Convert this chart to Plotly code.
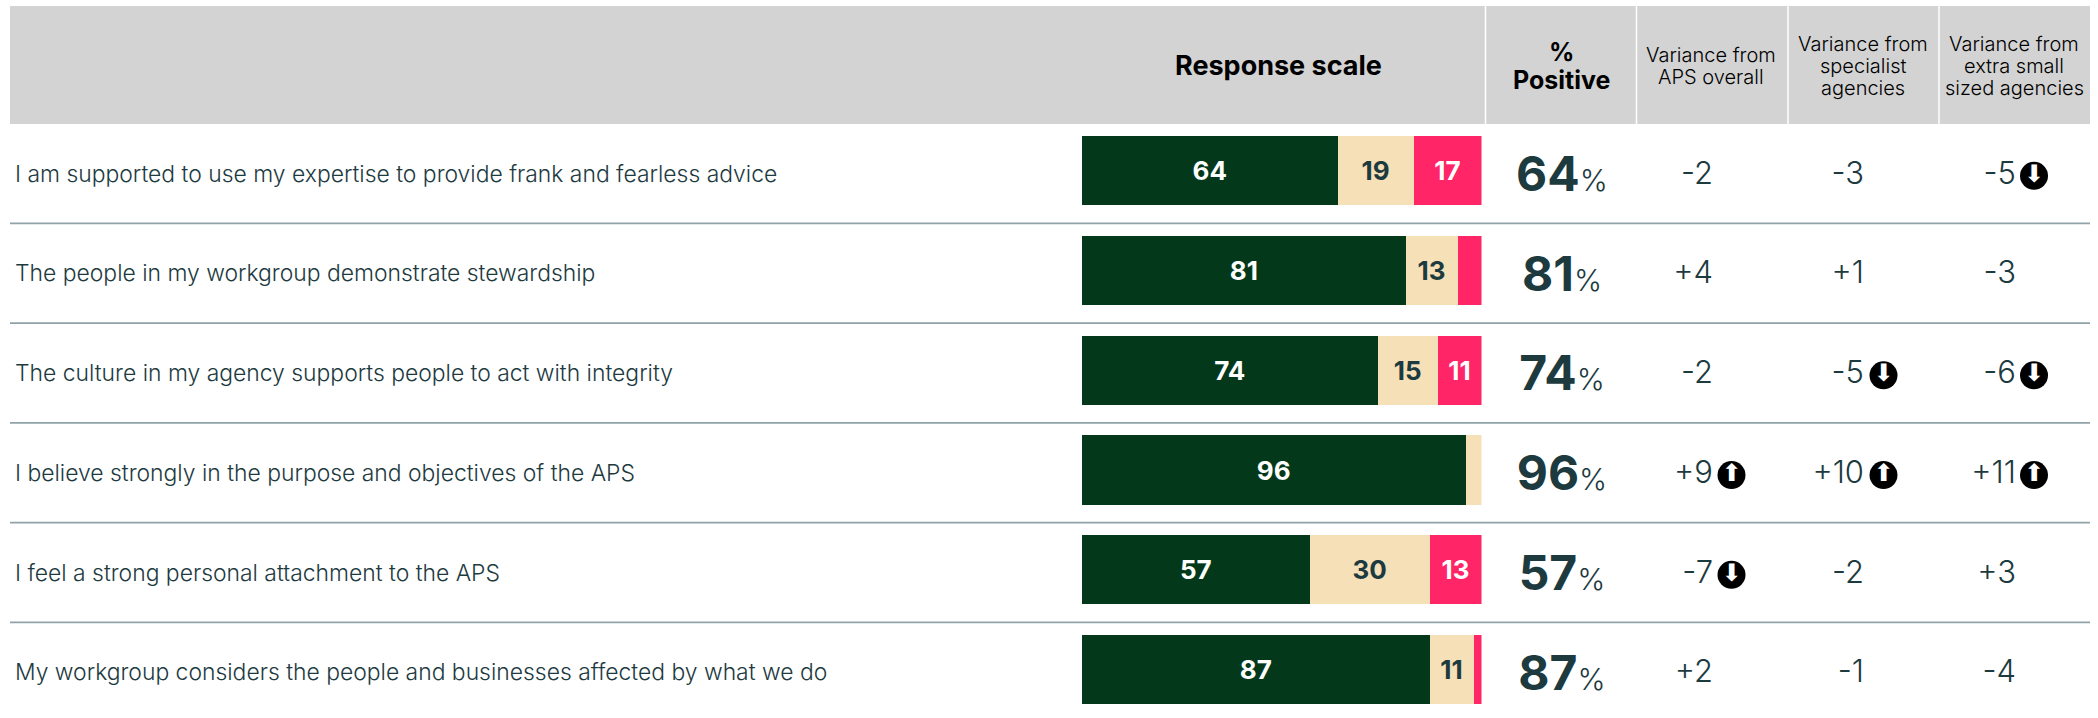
import plotly.graph_objects as go

# Survey statements and their response breakdown (%)
questions = [
    "I am supported to use my expertise to provide frank and fearless advice",
    "The people in my workgroup demonstrate stewardship",
    "The culture in my agency supports people to act with integrity",
    "I believe strongly in the purpose and objectives of the APS",
    "I feel a strong personal attachment to the APS",
    "My workgroup considers the people and businesses affected by what we do",
]
positive = [64, 81, 74, 96, 57, 87]
neutral = [19, 13, 15, 4, 30, 11]
negative = [17, 6, 11, 0, 13, 2]

# Variance columns, in percentage points
var_aps = [-2, 4, -2, 9, -7, 2]
var_specialist = [-3, 1, -5, 10, -2, -1]
var_small = [-5, -3, -6, 11, 3, -4]

WIDTH, HEIGHT = 2098, 718
FONT = "Inter"
INK = "#1d3a3f"
GREEN, CREAM, PINK = "#03391a", "#f5e0b7", "#ff2567"
HEADER_BG, RULE = "#d3d3d3", "#8fa3a8"
LABEL_MIN = 10       # segments narrower than this carry no label
ARROW_MIN = 5        # variance at or beyond this gets a direction icon

# Layout in pixels
BAR_LEFT, BAR_RIGHT = 1082, 1481.5
ROW0, ROW_STEP = 170.8, 99.75
TEXT_DROP = 5        # row text sits slightly below the bar centre line
FIGURE_DROP = 8      # the large figures sit a little lower still
HEADER_TOP, HEADER_BOTTOM = 6, 124
TABLE_LEFT, TABLE_RIGHT = 10, 2090
COLUMN_EDGES = [1485.5, 1636.5, 1788, 1939]
QUESTION_X = 15
PERCENT_X = 1562
VAR_TEXT_X = [1713, 1864, 2016]
VAR_ICON_X = [1731.5, 1883.5, 2034]


def segment_labels(values):
    return [str(v) if v >= LABEL_MIN else "" for v in values]


fig = go.Figure()

for values, colour, ink in [
    (positive, GREEN, "white"),
    (neutral, CREAM, INK),
    (negative, PINK, "white"),
]:
    fig.add_trace(go.Bar(
        y=questions, x=values, orientation="h", width=0.695,
        marker=dict(color=colour, line_width=0),
        text=segment_labels(values), textposition="inside", textangle=0,
        insidetextanchor="middle", constraintext="none",
        textfont=dict(family=FONT, size=26, color=ink, weight=700),
        hoverinfo="skip", xaxis="x", yaxis="y",
    ))

# Statement text
fig.add_trace(go.Scatter(
    x=[QUESTION_X] * len(questions), y=questions, mode="text",
    text=questions, textposition="middle right",
    textfont=dict(family=FONT, size=22.9, color=INK, weight=350),
    xaxis="x2", yaxis="y2", hoverinfo="skip", cliponaxis=False,
))

# Large % positive figures
fig.add_trace(go.Scatter(
    x=[PERCENT_X] * len(positive), y=questions, mode="text",
    text=[f'{v}<span style="font-size:30px;font-weight:300">%</span>' for v in positive],
    textposition="middle center",
    textfont=dict(family=FONT, size=48, color=INK, weight=700),
    xaxis="x3", yaxis="y3", hoverinfo="skip", cliponaxis=False,
))

# Variance columns and their direction icons
for column, text_x, icon_x in zip([var_aps, var_specialist, var_small], VAR_TEXT_X, VAR_ICON_X):
    fig.add_trace(go.Scatter(
        x=[text_x] * len(column), y=questions, mode="text",
        text=[f"{v:+d}" for v in column], textposition="middle left",
        textfont=dict(family=FONT, size=31, color=INK, weight=300),
        xaxis="x2", yaxis="y2", hoverinfo="skip", cliponaxis=False,
    ))
    flagged = [(q, v) for q, v in zip(questions, column) if abs(v) >= ARROW_MIN]
    fig.add_trace(go.Scatter(
        x=[icon_x] * len(flagged), y=[q for q, _ in flagged], mode="markers+text",
        marker=dict(symbol="circle", size=28, color="black", line_width=0),
        text=["⬆" if v > 0 else "⬇" for _, v in flagged],
        textposition="middle center",
        textfont=dict(family="DejaVu Sans", size=24, color="white"),
        xaxis="x2", yaxis="y2", hoverinfo="skip", cliponaxis=False,
    ))

shapes = [dict(type="rect", xref="x2", yref="paper", layer="below",
               x0=TABLE_LEFT, x1=TABLE_RIGHT, y0=1 - HEADER_TOP / HEIGHT, y1=1 - HEADER_BOTTOM / HEIGHT,
               fillcolor=HEADER_BG, line_width=0)]
for edge in COLUMN_EDGES:
    shapes.append(dict(type="line", xref="x2", yref="paper", layer="below",
                       x0=edge, x1=edge, y0=1 - HEADER_TOP / HEIGHT, y1=1 - HEADER_BOTTOM / HEIGHT,
                       line=dict(color="white", width=1.5)))
for i in range(len(questions) - 1):
    shapes.append(dict(type="line", xref="x2", yref="y", layer="below",
                       x0=TABLE_LEFT, x1=TABLE_RIGHT, y0=i + 0.527, y1=i + 0.527,
                       line=dict(color=RULE, width=1.6)))


def header(text, x, y, size, weight=400):
    return dict(text=text, xref="x2", yref="paper", x=x, y=1 - y / HEIGHT,
                showarrow=False, xanchor="center", yanchor="middle", align="center",
                font=dict(family=FONT, size=size, color="black", weight=weight))


def header_lines(lines, x, centre=66, pitch=22, size=20):
    first = centre - pitch * (len(lines) - 1) / 2
    return [header(line, x, first + pitch * i, size, 350) for i, line in enumerate(lines)]


annotations = [
    header("Response scale", 1278, 66, 27, 700),
    header("%", 1561, 52, 25, 700),
    header("Positive", 1561, 80, 25, 700),
    *header_lines(["Variance from", "APS overall"], 1711),
    *header_lines(["Variance from", "specialist", "agencies"], 1863),
    *header_lines(["Variance from", "extra small", "sized agencies"], 2014),
]

y_range = [(HEIGHT - ROW0) / ROW_STEP, -ROW0 / ROW_STEP]


def dropped_range(pixels):
    shift = pixels / ROW_STEP
    return [y_range[0] - shift, y_range[1] - shift]


hidden_rows = dict(type="category", categoryorder="array", categoryarray=questions,
                   visible=False, fixedrange=True)
page_x = dict(domain=[0, 1], range=[0, WIDTH], visible=False, fixedrange=True)

fig.update_layout(
    width=WIDTH, height=HEIGHT, autosize=False,
    margin=dict(l=0, r=0, t=0, b=0),
    paper_bgcolor="white", plot_bgcolor="rgba(0,0,0,0)",
    barmode="stack", showlegend=False,
    shapes=shapes, annotations=annotations,
    xaxis=dict(domain=[BAR_LEFT / WIDTH, BAR_RIGHT / WIDTH], range=[0, 100],
               visible=False, anchor="y", fixedrange=True),
    xaxis2=dict(anchor="y2", **page_x),
    xaxis3=dict(anchor="y3", **page_x),
    yaxis=dict(range=y_range, **hidden_rows),
    yaxis2=dict(range=dropped_range(TEXT_DROP), anchor="x2", **hidden_rows),
    yaxis3=dict(range=dropped_range(FIGURE_DROP), anchor="x3", **hidden_rows),
)

fig.write_html("out.html", config=dict(displayModeBar=False))
